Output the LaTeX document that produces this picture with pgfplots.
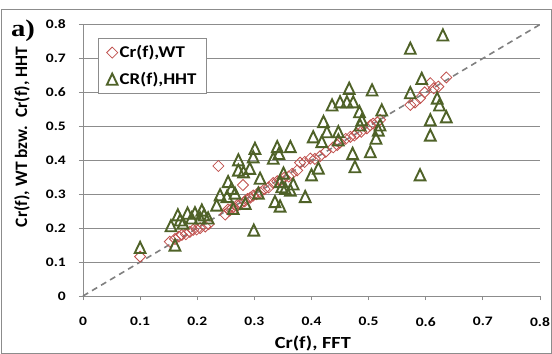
\documentclass[border=0pt]{standalone}
\usepackage{fontspec}
\setmainfont{Carlito}
\newfontfamily\timesfont{Liberation Serif}
\usepackage{graphicx}
\usepackage{pgfplots}
\pgfplotsset{compat=1.18}
\definecolor{hhtgreen}{HTML}{4F6228}
\definecolor{wtred}{HTML}{C0504D}
\definecolor{gridgray}{HTML}{8C8C8C}
\definecolor{dashgray}{HTML}{808080}
\definecolor{framegray}{HTML}{8C8C8C}
\newcommand{\sx}[1]{\scalebox{1.2}[1]{#1}}
\begin{document}
\begin{tikzpicture}
\path[use as bounding box] (-83bp,-58bp) rectangle (469bp,296bp);
\draw[framegray, line width=0.8bp] (-81.5bp,-57.3bp) rectangle (468.3bp,286.5bp);
\begin{axis}[
  at={(0,0)}, anchor=south west,
  scale only axis, width=457bp, height=271.5bp,
  xmin=0, xmax=0.8, ymin=0, ymax=0.8,
  xtick={0,0.1,0.2,0.3,0.4,0.5,0.6,0.7,0.8},
  ytick={0,0.1,0.2,0.3,0.4,0.5,0.6,0.7,0.8},
  xticklabel={\sx{\pgfmathprintnumber[assume math mode=true]{\tick}}},
  yticklabel={\sx{\pgfmathprintnumber[assume math mode=true]{\tick}}},
  axis x line*=bottom, axis y line*=left,
  axis line style={gridgray, line width=0.8bp},
  tick align=outside, major tick length=4bp,
  tick style={gridgray, line width=0.8bp},
  ymajorgrids, major grid style={gridgray, line width=0.8bp},
  ticklabel style={font=\bfseries\fontsize{13}{13}\selectfont},
  yticklabel style={inner sep=0pt, anchor=east, xshift=-13bp},
  xticklabel style={inner sep=0pt, anchor=north, yshift=-17bp},
  xlabel={\sx{Cr(f), FFT}},
  ylabel={Cr(f), WT bzw.\ \ Cr(f), HHT},
  every axis x label/.style={at={(axis description cs:0.503,0)}, anchor=center, yshift=-47bp,
    font=\bfseries\fontsize{17}{17}\selectfont},
  every axis y label/.style={at={(axis description cs:0,0.586)}, anchor=center, rotate=90, yshift=61bp,
    font=\bfseries\fontsize{17.5}{18}\selectfont},
  legend style={at={(rel axis cs:0.0335,0.949)}, anchor=north west,
    draw=gridgray, line width=0.8bp, fill=white,
    font=\bfseries\fontsize{16.5}{16.5}\selectfont,
    inner xsep=8bp, inner ysep=5bp, row sep=9bp},
  legend cell align=left,
  clip=false,
]
\addplot[only marks, mark=square, mark size=3.9bp,
  mark options={draw=wtred, fill=none, rotate=45, line width=0.8bp}]
coordinates {
(0.100,0.116) (0.152,0.160) (0.161,0.168) (0.168,0.175) (0.173,0.180)
(0.180,0.182) (0.187,0.189) (0.193,0.195) (0.199,0.196) (0.205,0.200)
(0.214,0.205) (0.220,0.212) (0.237,0.383) (0.249,0.240) (0.254,0.255)
(0.257,0.252) (0.262,0.260) (0.266,0.258) (0.270,0.268) (0.275,0.270)
(0.280,0.327) (0.283,0.279) (0.288,0.286) (0.293,0.290) (0.298,0.296)
(0.304,0.300) (0.310,0.305) (0.318,0.315) (0.325,0.320) (0.333,0.333)
(0.340,0.338) (0.345,0.340) (0.352,0.348) (0.360,0.352) (0.366,0.360)
(0.375,0.370) (0.380,0.393) (0.388,0.395) (0.398,0.405) (0.406,0.404)
(0.415,0.412) (0.425,0.425) (0.438,0.438) (0.445,0.445) (0.450,0.452)
(0.460,0.463) (0.468,0.469) (0.475,0.473) (0.479,0.479) (0.487,0.484)
(0.497,0.494) (0.503,0.503) (0.508,0.508) (0.515,0.512) (0.520,0.519)
(0.573,0.563) (0.581,0.570) (0.590,0.583) (0.598,0.600) (0.608,0.627)
(0.614,0.612) (0.622,0.617) (0.636,0.644)
};
\addlegendentry{\scalebox{1.15}[1]{Cr(f),WT}}
\addplot[only marks, mark=triangle, mark size=6.2bp,
  mark options={draw=hhtgreen, fill=none, line width=1.9bp, yscale=1.2, yshift=-1.5bp}]
coordinates {
(0.100,0.143) (0.161,0.150) (0.154,0.207) (0.166,0.239) (0.170,0.224)
(0.175,0.215) (0.183,0.244) (0.190,0.230) (0.196,0.245) (0.208,0.253)
(0.212,0.239) (0.219,0.230) (0.205,0.230) (0.234,0.268) (0.240,0.298)
(0.252,0.293) (0.254,0.337) (0.263,0.258) (0.266,0.303) (0.272,0.401)
(0.272,0.371) (0.281,0.366) (0.284,0.273) (0.292,0.376) (0.298,0.410)
(0.299,0.194) (0.310,0.347) (0.307,0.303) (0.333,0.406) (0.336,0.278)
(0.345,0.265) (0.345,0.337) (0.354,0.317) (0.363,0.312) (0.368,0.330)
(0.348,0.322) (0.351,0.362) (0.389,0.293) (0.400,0.357) (0.412,0.377)
(0.301,0.435) (0.340,0.440) (0.363,0.440) (0.343,0.420) (0.260,0.317)
(0.403,0.469) (0.466,0.612) (0.506,0.607) (0.573,0.599) (0.436,0.563)
(0.450,0.572) (0.462,0.572) (0.473,0.572) (0.484,0.543) (0.523,0.548)
(0.421,0.514) (0.488,0.519) (0.427,0.484) (0.447,0.484) (0.418,0.455)
(0.447,0.460) (0.485,0.504) (0.520,0.504) (0.517,0.489) (0.513,0.465)
(0.503,0.425) (0.472,0.420) (0.476,0.381) (0.630,0.769) (0.573,0.730)
(0.593,0.641) (0.620,0.583) (0.624,0.563) (0.636,0.528) (0.608,0.519)
(0.608,0.474) (0.590,0.357)
};
\addlegendentry{\scalebox{1.15}[1]{CR(f),HHT}}
\addplot[forget plot, dashgray, line width=1.6bp, dash pattern=on 6bp off 4.5bp]
coordinates {(0,0) (0.8,0.8)};
\end{axis}
\node[font=\timesfont\bfseries\fontsize{24}{24}\selectfont, anchor=center] at (-60bp,265bp) {\sx{a)}};
\end{tikzpicture}
\end{document}
